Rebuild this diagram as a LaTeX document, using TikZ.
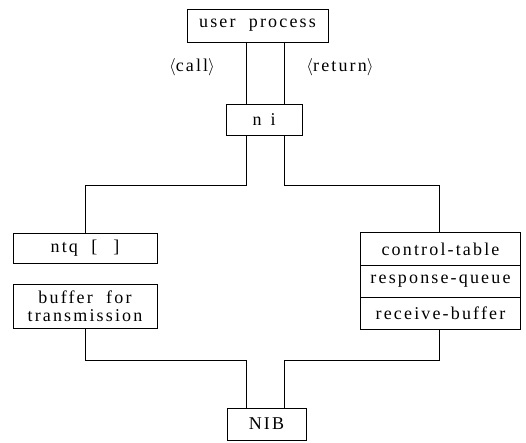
\documentclass[tikz,border=0pt]{standalone}
\usepackage{fontspec}
\setmainfont{Liberation Serif}[LetterSpace=12,WordSpace=2]
\begin{document}
\begin{tikzpicture}[x=1pt,y=1pt,line width=0.9pt,
  box/.style={draw,rectangle,inner sep=0pt,align=center,font=\fontsize{18}{19}\selectfont},
  cell/.style={rectangle,inner sep=0pt,align=center,minimum width=159,font=\fontsize{18}{19}\selectfont},
  lbl/.style={inner sep=0pt,font=\fontsize{18}{19}\selectfont}]
\useasboundingbox (0,0) rectangle (526,442);
\node[box,minimum width=141,minimum height=33] (user) at (257.5,416.5) {user process};
\node[box,minimum width=76,minimum height=31] (ni) at (264,322.5) {n\hspace{9pt}i};
\node[box,minimum width=144,minimum height=30] (ntq) at (85,194) {ntq [\hspace{16pt}]};
\node[box,minimum width=144,minimum height=44] (buf) at (85,136) {buffer for\\[-1pt]transmission};
\node[cell,minimum height=32] (ctl) at (440.5,193) {control-table};
\node[cell,minimum height=31,anchor=north] (rq) at (ctl.south) {response-queue};
\node[cell,minimum height=31,anchor=north] (rb) at (rq.south) {receive-buffer};
\draw (ctl.north west) rectangle (rb.south east);
\draw (ctl.south west) -- (ctl.south east);
\draw (rq.south west) -- (rq.south east);
\node[box,minimum width=79,minimum height=32] (nib) at (266.5,18) {NIB};
\node[lbl] (call) at (192,375) {$\langle$call$\rangle$};
\node[lbl] (ret) at (340,375) {$\langle$return$\rangle$};
\coordinate (xL) at (246,0);
\coordinate (xR) at (284,0);
\coordinate (hu) at (0,257);
\coordinate (hd) at (0,82);
\draw (xL |- user.south) -- (xL |- ni.north);
\draw (xR |- user.south) -- (xR |- ni.north);
\draw (xL |- ni.south) -- (xL |- hu) -| (ntq.north);
\draw (xR |- ni.south) -- (xR |- hu) -| ([xshift=-1.5pt]ctl.north);
\draw (buf.south) -- (buf.south |- hd) -| (xL |- nib.north);
\draw ([xshift=-1.5pt]rb.south) -- ([xshift=-1.5pt]rb.south |- hd) -| (xR |- nib.north);
\end{tikzpicture}
\end{document}
